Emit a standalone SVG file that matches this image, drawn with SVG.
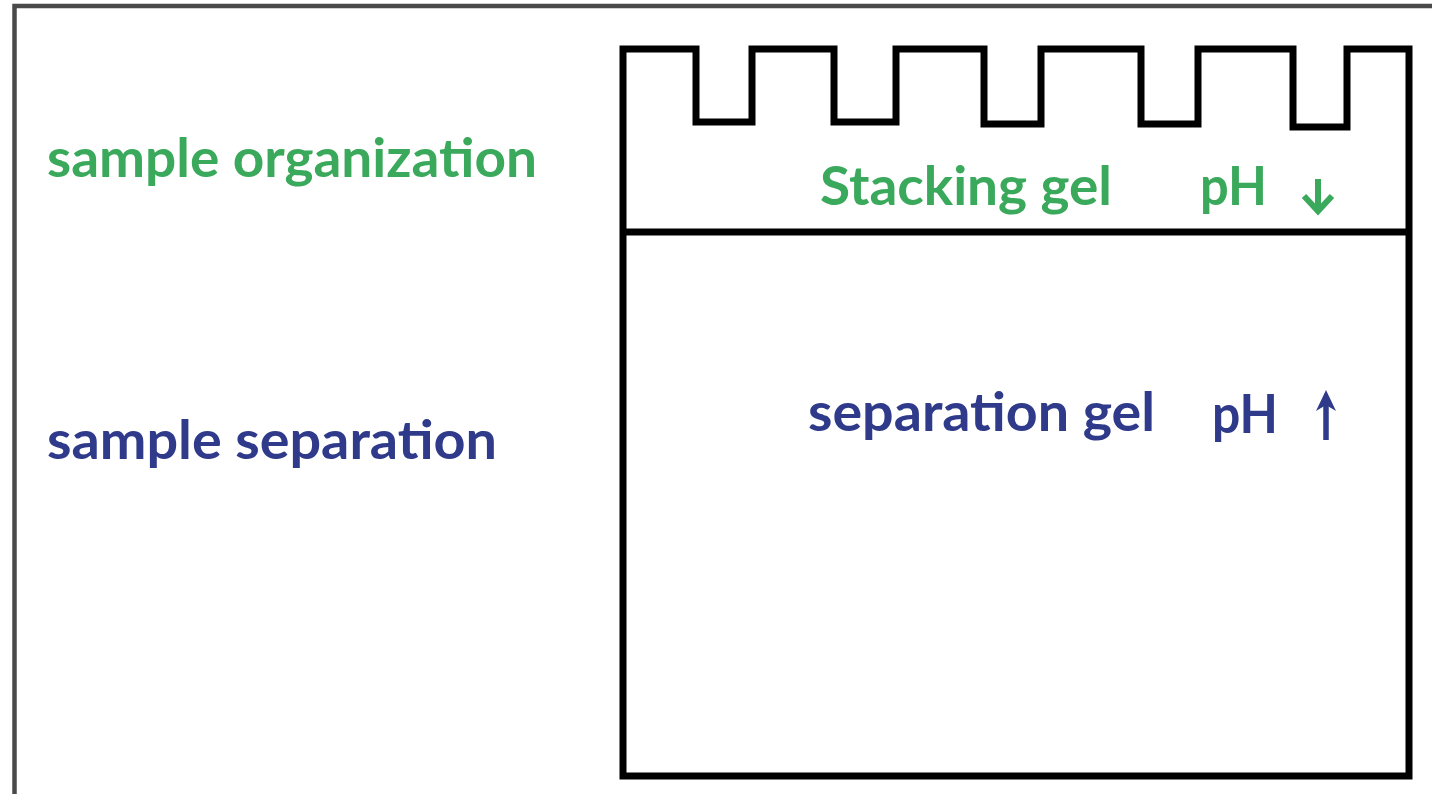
<svg xmlns="http://www.w3.org/2000/svg" width="1432" height="794" viewBox="0 0 1432 794">
  <style>
    .frame { fill: none; stroke: #4a4a4a; stroke-width: 4.5; }
    .gel { fill: none; stroke: #000; stroke-width: 7; stroke-linejoin: miter; }
    .lbl { font-family: Lato, "Open Sans", "Liberation Sans", sans-serif; font-weight: bold; font-size: 53px; }
    .green { fill: #3aa95c; }
    .blue { fill: #2f3a8a; }
    .arrow-g { stroke: #3aa95c; stroke-width: 6; fill: none; stroke-linecap: butt; stroke-linejoin: miter; }
    .arrow-b { stroke: #2f3a8a; stroke-width: 5.5; fill: none; }
  </style>

  <rect width="1432" height="794" fill="#fff"/>
  <!-- outer frame, running off the right and bottom edges -->
  <rect class="frame" x="14.5" y="6" width="1440" height="800"/>

  <!-- gel cassette: comb teeth on top, stacking/separation boundary -->
  <g id="gel">
    <path class="gel" d="M623,49 H696 V122 H752 V49 H834 V122 H896 V49 H984 V124 H1041 V49 H1141 V124 H1198 V49 H1293 V127 H1347 V49 H1409 V776 H623 Z"/>
    <line class="gel" x1="623" y1="232" x2="1409" y2="232"/>
  </g>

  <g id="label-organization">
    <text class="lbl green" x="47" y="177" textLength="490" lengthAdjust="spacingAndGlyphs">sample organization</text>
  </g>
  <g id="label-separation">
    <text class="lbl blue" x="47" y="459" textLength="450" lengthAdjust="spacingAndGlyphs">sample separation</text>
  </g>

  <g id="stacking-gel">
    <text class="lbl green" x="820" y="205" textLength="292" lengthAdjust="spacingAndGlyphs">Stacking gel</text>
    <text class="lbl green" x="1200" y="205" textLength="67" lengthAdjust="spacingAndGlyphs">pH</text>
    <!-- pH falls -->
    <path class="arrow-g" d="M1318,179 V210 M1304,196 L1318,211 L1332,196"/>
  </g>

  <g id="separation-gel">
    <text class="lbl blue" x="808" y="431" textLength="347" lengthAdjust="spacingAndGlyphs">separation gel</text>
    <text class="lbl blue" x="1212" y="433" textLength="66" lengthAdjust="spacingAndGlyphs">pH</text>
    <!-- pH rises -->
    <line class="arrow-b" x1="1326" y1="402" x2="1326" y2="440"/>
    <path class="blue" d="M1326,390 L1336,411 L1326,405 L1316,411 Z"/>
  </g>
</svg>
